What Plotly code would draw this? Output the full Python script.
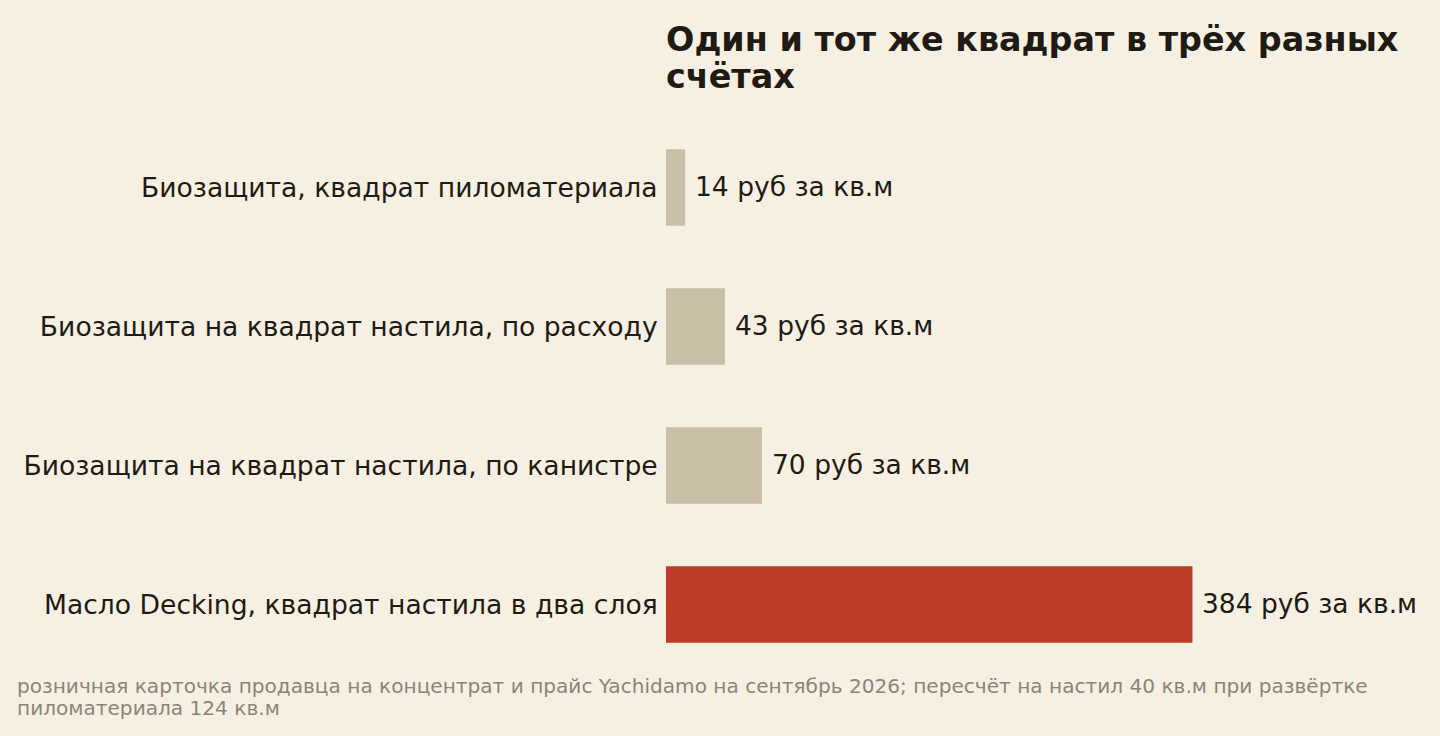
import plotly.graph_objects as go

categories = [
    "Биозащита, квадрат пиломатериала",
    "Биозащита на квадрат настила, по расходу",
    "Биозащита на квадрат настила, по канистре",
    "Масло Decking, квадрат настила в два слоя",
]
values = [14, 43, 70, 384]
value_labels = ["14 руб за кв.м", "43 руб за кв.м", "70 руб за кв.м", "384 руб за кв.м"]
bar_colors = ["#c9bfa7", "#c9bfa7", "#c9bfa7", "#bd3c27"]

title_lines = ["Один и тот же квадрат в трёх разных", "счётах"]
note_lines = [
    "розничная карточка продавца на концентрат и прайс Yachidamo на сентябрь 2026; "
    "пересчёт на настил 40 кв.м при развёртке",
    "пиломатериала 124 кв.м",
]

BG = "#f6f0e3"
INK = "#1f1b14"
NOTE = "#8b8477"
FONT = "DejaVu Sans"

W, H = 1440, 736
ML, MR, MT, MB = 666, 20, 118, 62
PH = H - MT - MB
PW = W - ML - MR


def py(ypix):
    return (H - MB - ypix) / PH


def px(xpix):
    return (xpix - ML) / PW


fig = go.Figure()
fig.add_trace(go.Bar(
    x=values, y=categories, orientation="h",
    marker=dict(color=bar_colors, line=dict(width=0)),
    width=0.55, hoverinfo="skip",
))

for v, c, t in zip(values, categories, value_labels):
    fig.add_annotation(x=v, y=c, text=t, showarrow=False, xanchor="left",
                       xshift=8, yshift=1, font=dict(family=FONT, size=26.5, color=INK))

for i, line in enumerate(title_lines):
    fig.add_annotation(xref="paper", yref="paper", x=px(664), y=py(40 + 36.5 * i),
                       xanchor="left", yanchor="middle", showarrow=False,
                       text=f"<b>{line}</b>",
                       font=dict(family=FONT, size=33.4, color=INK))

for i, line in enumerate(note_lines):
    fig.add_annotation(xref="paper", yref="paper", x=px(15), y=py(686 + 22 * i),
                       xanchor="left", yanchor="middle", showarrow=False,
                       text=line, font=dict(family=FONT, size=20.1, color=NOTE))

fig.update_layout(
    width=W, height=H,
    paper_bgcolor=BG, plot_bgcolor=BG,
    margin=dict(l=ML, r=MR, t=MT, b=MB),
    showlegend=False,
    xaxis=dict(range=[0, 550], visible=False, fixedrange=True),
    yaxis=dict(autorange="reversed", showgrid=False, zeroline=False, showline=False,
               ticks="outside", ticklen=2, tickcolor="rgba(0,0,0,0)",
               tickfont=dict(family=FONT, size=26.6, color=INK), fixedrange=True),
    font=dict(family=FONT, color=INK),
)

fig.write_html("out.html", config={"displayModeBar": False},
               post_script="document.body.style.margin='0';document.body.style.background='#f6f0e3';")
